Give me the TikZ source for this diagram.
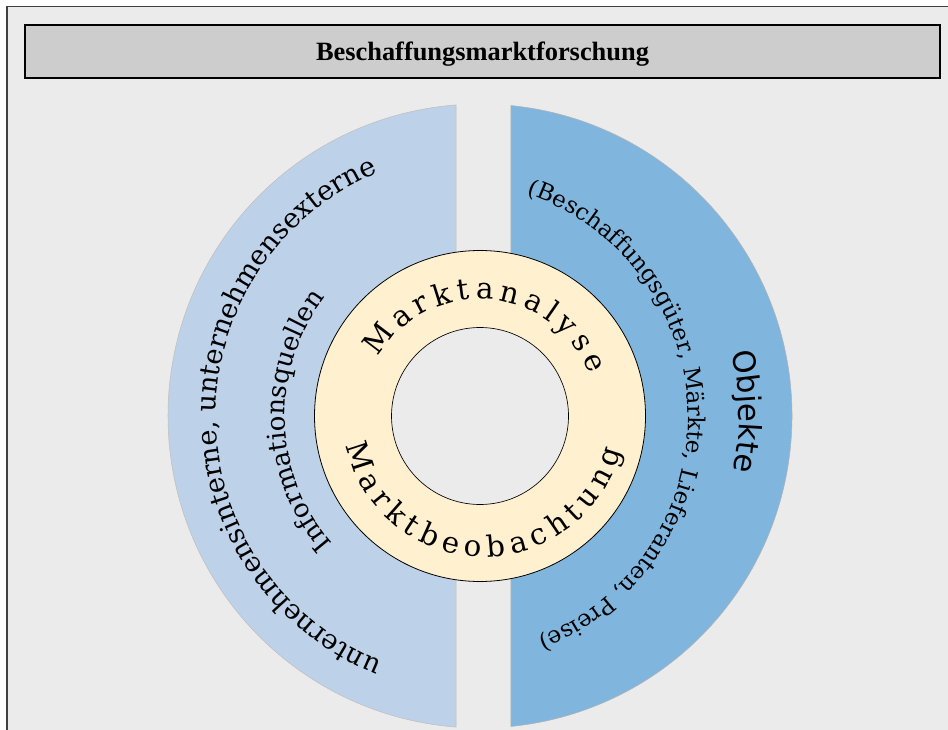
\documentclass[tikz,border=0pt]{standalone}
\usepackage{fontspec}
\setmainfont{DejaVu Serif}
\newfontfamily\titlefont{Liberation Serif}
\newfontfamily\objfont{DejaVu Sans}
\usetikzlibrary{decorations.text}
\definecolor{bgcol}{HTML}{EBEBEB}
\definecolor{titlecol}{HTML}{CDCDCD}
\definecolor{leftcol}{HTML}{BDD1E9}
\definecolor{rightcol}{HTML}{80B6DE}
\definecolor{ringcol}{HTML}{FFF1D0}
\definecolor{framecol}{HTML}{404040}
\newcommand\ringfnt{\fontsize{22}{26}\selectfont}
\newcommand\outerfnt{\fontsize{20.5}{24}\selectfont}
\newcommand\infofnt{\fontsize{19.5}{23}\selectfont}
\newcommand\objfnt{\objfont\fontsize{23}{27}\selectfont}
\newcommand\listfnt{\fontsize{17.3}{21}\selectfont}
\tikzset{
  framebox/.style={draw=framecol, line width=1.1pt, fill=bgcol},
  titlebox/.style={draw=black, line width=0.9pt, fill=titlecol, inner sep=0pt,
    minimum width=686.25pt, minimum height=39.75pt},
  titletext/.style={inner sep=0pt, anchor=base,
    font=\titlefont\bfseries\fontsize{19.8}{23}\selectfont},
  leftdisc/.style={fill=leftcol, draw=black!25, line width=0.4pt},
  rightdisc/.style={fill=rightcol, draw=black!30, line width=0.4pt},
  ringdisc/.style={fill=ringcol, draw=black, line width=0.6pt},
  holedisc/.style={fill=bgcol, draw=black, line width=0.5pt},
}
\begin{document}
\begin{tikzpicture}[x=0.75pt,y=0.75pt]
\useasboundingbox (0,0) rectangle (948,729);
\clip (0,0) rectangle (948,729);
\draw[framebox] (7,-20) rectangle (970,722.5);
\node[titlebox] (title) at (482.5,677.5) {};
\node[titletext] (titlelabel) at (482.5,668.5) {Beschaffungsmarktforschung};
\coordinate (C) at (480,313);
\coordinate (C2) at (484,313);
\coordinate (C3) at (452,311);
\filldraw[leftdisc] (C) ++(94.41:312) arc[start angle=94.41,end angle=265.59,radius=312] -- cycle;
\filldraw[rightdisc] (C) ++(84.30:312) arc[start angle=84.30,end angle=-84.30,radius=312] -- cycle;
\filldraw[ringdisc] (C) circle[radius=165.5];
\filldraw[holedisc] (C) circle[radius=88.5];
% ring texts
\path[decorate,decoration={text along path, text align={fit to path},
  text={|\ringfnt|Marktanalyse}}]
  (C) ++(150:117) arc[start angle=150,end angle=21,radius=117];
\path[decorate,decoration={text along path, text align={fit to path},
  text={|\ringfnt|Marktbeobachtung}}]
  (C2) ++(192:141) arc[start angle=192,end angle=346,radius=141];
% left disc texts
\path[decorate,decoration={text along path, text align={center},
  text={|\outerfnt|unternehmensinterne, unternehmensexterne}}]
  (C) ++(270:264) arc[start angle=270,end angle=91,radius=264];
\path[decorate,decoration={text along path, text align={center},
  text={|\infofnt|Informationsquellen}}]
  (C) ++(240:195) arc[start angle=240,end angle=123.4,radius=195];
% right disc texts
\path[decorate,decoration={text along path, text align={center},
  text={|\objfnt|Objekte}}]
  (C) ++(42:259) arc[start angle=42,end angle=-40,radius=259];
\path[decorate,decoration={text along path, text align={center},
  text={|\listfnt|(Beschaffungsgüter, Märkte, Lieferanten, Preise)}}]
  (C3) ++(95:236) arc[start angle=95,end angle=-92,radius=236];
\end{tikzpicture}
\end{document}
